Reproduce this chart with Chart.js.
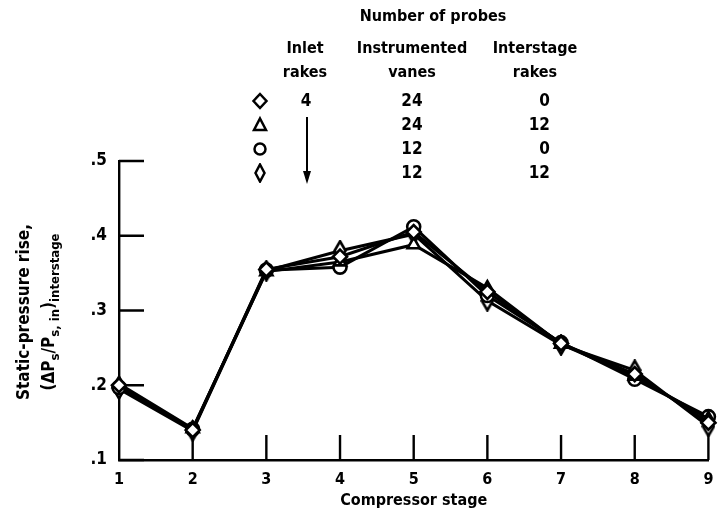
<!DOCTYPE html>
<html><head><meta charset="utf-8">
<script src="https://cdn.jsdelivr.net/npm/chart.js@4/dist/chart.umd.min.js"></script>
<style>
html,body{margin:0;padding:0;background:#fff;}
#wrap{position:relative;width:718px;height:515px;font-family:"DejaVu Sans Condensed","Liberation Sans Narrow",sans-serif;font-weight:bold;color:#000;}
canvas{position:absolute;left:0;top:0;}
.t{position:absolute;font-size:16px;line-height:16px;white-space:nowrap;}
.n{font-size:17px;}
.c{transform:translateX(-50%);text-align:center;}
.r{transform:translateX(-100%);text-align:right;}
#ytitle{position:absolute;left:36px;top:312px;transform:translate(-50%,-50%) rotate(-90deg);font-size:17px;line-height:25px;text-align:center;white-space:nowrap;}
sub{font-size:13px;vertical-align:-5px;line-height:0;}
</style></head>
<body><div id="wrap"><canvas id="c" width="718" height="515"></canvas>
<div class="t c" style="left:433px;top:8px">Number of probes</div>
<div class="t c" style="left:305px;top:40px">Inlet</div>
<div class="t c" style="left:305px;top:64px">rakes</div>
<div class="t c" style="left:412px;top:40px">Instrumented</div>
<div class="t c" style="left:412px;top:64px">vanes</div>
<div class="t c" style="left:535px;top:40px">Interstage</div>
<div class="t c" style="left:535px;top:64px">rakes</div>
<div id="rows"></div>
<svg style="position:absolute;left:0;top:0" width="718" height="515">
<line x1="307" y1="117" x2="307" y2="176" stroke="#000" stroke-width="2"/>
<polygon points="303,171 311,171 307,184" fill="#000"/>
</svg>
<div id="ytitle">Static-pressure rise,<br>(ΔP<sub>s</sub>/P<sub>s, in</sub>)<sub>interstage</sub></div>
</div>
<script>
const stages = [1,2,3,4,5,6,7,8,9];
const yTicks = [0.1,0.2,0.3,0.4,0.5];
const seriesNames = ["24 vanes, 0 rakes","24 vanes, 12 rakes","12 vanes, 0 rakes","12 vanes, 12 rakes"];
const inletRakes = ["4","","",""];
const instrumentedVanes = ["24","24","12","12"];
const interstageRakes = ["0","12","0","12"];
const diamond24_0   = [0.200,0.140,0.355,0.372,0.405,0.325,0.256,0.215,0.150];
const triangle24_12 = [0.202,0.142,0.352,0.365,0.388,0.330,0.255,0.212,0.155];
const circle12_0    = [0.197,0.141,0.354,0.358,0.412,0.320,0.257,0.208,0.158];
const tallDia12_12  = [0.195,0.139,0.353,0.380,0.402,0.313,0.254,0.220,0.145];

function tallDiamond(){
  const cv=document.createElement('canvas');cv.width=14;cv.height=22;
  const g=cv.getContext('2d');g.fillStyle='#fff';g.strokeStyle='#000';g.lineWidth=2.6;
  g.beginPath();g.moveTo(7,1.5);g.lineTo(12.5,11);g.lineTo(7,20.5);g.lineTo(1.5,11);g.closePath();g.fill();g.stroke();
  return cv;
}
const tall = tallDiamond();
const styles = ['rectRot','triangle','circle',tall];
const radii = [7,7,6.5,7];
const dataSets = [diamond24_0,triangle24_12,circle12_0,tallDia12_12];

const rows=document.getElementById('rows');
const legendSvg=['<svg width="18" height="20"><polygon points="9,3 15.5,10 9,17 2.5,10" fill="#fff" stroke="#000" stroke-width="2.5"/></svg>',
 '<svg width="18" height="20"><polygon points="9,3.5 15,15 3,15" fill="#fff" stroke="#000" stroke-width="2.5"/></svg>',
 '<svg width="18" height="20"><circle cx="9" cy="10" r="5.5" fill="#fff" stroke="#000" stroke-width="2.5"/></svg>',
 '<svg width="18" height="20"><polygon points="9,1.5 13.5,10 9,18.5 4.5,10" fill="#fff" stroke="#000" stroke-width="2.5"/></svg>'];
for(let i=0;i<4;i++){
  const y=92+i*24;
  rows.innerHTML+=`<div style="position:absolute;left:251px;top:${y-1}px">${legendSvg[i]}</div>`+
   (inletRakes[i]?`<div class="t n c" style="left:306px;top:${y}px">${inletRakes[i]}</div>`:'')+
   `<div class="t n c" style="left:412px;top:${y}px">${instrumentedVanes[i]}</div>`+
   `<div class="t n r" style="left:550px;top:${y}px">${interstageRakes[i]}</div>`;
}

const innerTicks={id:'innerTicks',beforeDatasetsDraw(chart){
  const g=chart.ctx,x=chart.scales.x,y=chart.scales.y;
  g.save();g.strokeStyle='#000';g.lineWidth=2.4;g.beginPath();
  for(const v of yTicks){const p=y.getPixelForValue(v);g.moveTo(x.left,p);g.lineTo(x.left+25,p);}
  for(const s of stages){if(s===1)continue;const p=x.getPixelForValue(s);g.moveTo(p,y.bottom);g.lineTo(p,y.bottom-25);}
  g.stroke();g.restore();
}};

const F='DejaVu Sans Condensed';
new Chart(document.getElementById('c'),{
  type:'line',
  data:{datasets:dataSets.map((d,i)=>({label:seriesNames[i],data:stages.map((s,j)=>({x:s,y:d[j]})),
    borderColor:'#000',borderWidth:3,backgroundColor:'#fff',pointBackgroundColor:'#fff',pointBorderColor:'#000',
    pointBorderWidth:2.6,pointStyle:styles[i],pointRadius:radii[i],tension:0,clip:false}))},
  options:{responsive:false,animation:false,
    layout:{padding:{top:161,right:0,left:0,bottom:0}},
    plugins:{legend:{display:false},tooltip:{enabled:false}},
    scales:{
      x:{type:'linear',min:1,max:9,afterFit(s){s.height=55;s.paddingRight=7;},
        afterBuildTicks(s){s.ticks=stages.map(v=>({value:v}));},
        grid:{display:false,drawTicks:false},border:{display:true,color:'#000',width:2.4},
        ticks:{padding:10,color:'#000',font:{family:F,size:16,weight:'bold'},callback:v=>String(v)},
        title:{display:true,text:'Compressor stage',color:'#000',font:{family:F,size:16,weight:'bold'},padding:{top:0,bottom:5}}},
      y:{min:0.1,max:0.5,afterFit(s){s.width=119;},
        afterBuildTicks(s){s.ticks=yTicks.map(v=>({value:v}));},
        grid:{display:false,drawTicks:false},border:{display:true,color:'#000',width:2.4},
        ticks:{padding:12,color:'#000',font:{family:F,size:17,weight:'bold'},callback:v=>'.'+Math.round(v*10)}}
    }
  },
  plugins:[innerTicks]
});
</script></body></html>
